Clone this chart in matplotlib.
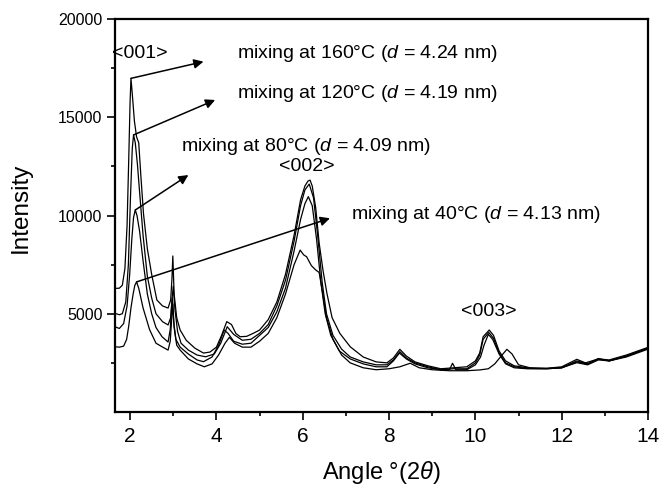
import matplotlib
matplotlib.use('Agg')
import matplotlib.pyplot as plt

plt.rcParams['font.family'] = ['Liberation Sans', 'DejaVu Sans']
plt.rcParams['mathtext.fontset'] = 'custom'
plt.rcParams['mathtext.rm'] = 'Liberation Sans'
plt.rcParams['mathtext.it'] = 'Liberation Sans:italic'

# XRD patterns (angle 2theta in deg, intensity)
x_160 = [1.65, 1.75, 1.82, 1.88, 1.93, 1.97, 2.00, 2.02, 2.05, 2.10, 2.15, 2.20, 2.25, 2.31, 2.40,
         2.50, 2.62, 2.75, 2.88, 2.94, 2.97, 2.99, 3.02, 3.08, 3.16, 3.30, 3.50, 3.70, 3.85, 4.00,
         4.12, 4.24, 4.35, 4.45, 4.55, 4.70, 4.85, 5.00, 5.20, 5.40, 5.60, 5.80, 5.95, 6.05, 6.12,
         6.17, 6.22, 6.30, 6.38, 6.47, 6.56, 6.68, 6.86, 7.10, 7.40, 7.70, 7.95, 8.10, 8.25, 8.40,
         8.60, 8.90, 9.20, 9.50, 9.80, 10.00, 10.10, 10.18, 10.32, 10.42, 10.55, 10.70, 10.90,
         11.20, 11.65, 12.00, 12.35, 12.55, 12.85, 13.10, 13.50, 14.00]
y_160 = [6290, 6300, 6450, 7300, 9500, 13000, 15800, 16980, 16200, 14800, 14000, 13700, 12000, 10100, 8300,
         7000, 5700, 5400, 5290, 5700, 6800, 7940, 6000, 4800, 4170, 3650, 3250, 3000, 3050, 3300,
         3900, 4600, 4450, 4000, 3830, 3850, 4000, 4170, 4700, 5600, 7000, 9000, 10800, 11500, 11750,
         11800, 11500, 10400, 8600, 7200, 6040, 4800, 4000, 3320, 2800, 2550, 2500, 2750, 3190, 2850,
         2550, 2350, 2200, 2250, 2300, 2600, 3000, 3830, 4170, 3900, 3100, 2600, 2350,
         2250, 2220, 2300, 2680, 2500, 2700, 2650, 2900, 3290]

x_120 = [1.65, 1.75, 1.82, 1.90, 1.96, 2.01, 2.05, 2.08, 2.12, 2.17, 2.22, 2.30, 2.40, 2.50, 2.60,
         2.75, 2.88, 2.94, 2.97, 3.00, 3.04, 3.10, 3.18, 3.35, 3.55, 3.75, 3.95, 4.10, 4.25, 4.40,
         4.60, 4.80, 5.00, 5.20, 5.40, 5.60, 5.80, 5.95, 6.05, 6.15, 6.25, 6.35, 6.45, 6.55, 6.70,
         6.90, 7.10, 7.40, 7.70, 7.95, 8.10, 8.25, 8.40, 8.60, 8.90, 9.20, 9.50, 9.80, 10.00, 10.10,
         10.18, 10.31, 10.42, 10.55, 10.70, 10.90, 11.20, 11.65, 12.00, 12.35, 12.60, 12.85, 13.10,
         13.50, 14.00]
y_120 = [5020, 4950, 5000, 5600, 7500, 11000, 13400, 14100, 13700, 12600, 11200, 9000, 6900, 5800, 5000,
         4600, 4430, 4800, 5700, 6400, 5200, 4100, 3500, 3150, 2900, 2810, 2950, 3500, 4340, 3950,
         3650, 3700, 4000, 4450, 5400, 6700, 8700, 10500, 11300, 11600, 10900, 8900, 6600, 5000, 3900,
         3200, 2800, 2550, 2400, 2400, 2650, 3070, 2750, 2500, 2300, 2150, 2200, 2200, 2500, 2900,
         3700, 4050, 3750, 3000, 2500, 2300, 2220, 2200, 2250, 2510, 2400, 2650, 2600,
         2850, 3250]

x_80 = [1.65, 1.75, 1.85, 1.93, 1.99, 2.04, 2.08, 2.12, 2.16, 2.22, 2.30, 2.40, 2.50, 2.60, 2.74,
        2.88, 2.93, 2.96, 2.98, 3.01, 3.06, 3.16, 3.35, 3.55, 3.70, 3.90, 4.05, 4.18, 4.27, 4.40,
        4.60, 4.80, 5.00, 5.20, 5.40, 5.60, 5.80, 5.95, 6.05, 6.13, 6.22, 6.32, 6.42, 6.52, 6.65,
        6.85, 7.10, 7.40, 7.70, 7.95, 8.10, 8.24, 8.40, 8.60, 8.90, 9.20, 9.40, 9.47, 9.55, 9.80,
        10.00, 10.12, 10.20, 10.30, 10.40, 10.55, 10.70, 10.90, 11.20, 11.65, 12.00, 12.35, 12.60,
        12.85, 13.10, 13.50, 14.00]
y_80 = [4340, 4250, 4500, 5400, 7000, 8800, 9900, 10280, 10000, 9200, 7700, 6000, 5000, 4300, 3830,
        3560, 4200, 5300, 5800, 4600, 3700, 3300, 2950, 2650, 2560, 2800, 3400, 4170, 4000, 3600,
        3450, 3500, 3900, 4300, 5100, 6300, 8200, 9800, 10600, 10960, 10500, 8800, 6600, 5000, 3900,
        3100, 2700, 2450, 2300, 2300, 2600, 3000, 2700, 2450, 2250, 2150, 2150, 2480, 2150, 2150,
        2400, 2800, 3400, 3950, 3700, 2950, 2450, 2250, 2200, 2200, 2250, 2550, 2450,
        2700, 2600, 2800, 3200]

x_40 = [1.65, 1.75, 1.85, 1.92, 1.97, 2.02, 2.07, 2.11, 2.15, 2.20, 2.30, 2.45, 2.60, 2.74, 2.88,
        2.93, 2.96, 2.99, 3.02, 3.08, 3.16, 3.35, 3.55, 3.72, 3.90, 4.05, 4.20, 4.30, 4.42, 4.60,
        4.80, 5.00, 5.20, 5.40, 5.60, 5.80, 5.94, 6.02, 6.09, 6.20, 6.30, 6.38, 6.45, 6.55, 6.70,
        6.90, 7.10, 7.40, 7.70, 8.00, 8.25, 8.49, 8.70, 9.00, 9.40, 9.80, 10.10, 10.30, 10.45,
        10.58, 10.73, 10.85, 11.00, 11.30, 11.65, 12.00, 12.35, 12.60, 12.85, 13.10, 13.50, 14.00]
y_40 = [3320, 3300, 3350, 3700, 4400, 5300, 6000, 6450, 6620, 6300, 5300, 4200, 3500, 3320, 3150,
        3600, 4600, 5500, 4300, 3400, 3150, 2700, 2450, 2300, 2450, 2900, 3500, 3800, 3500, 3300,
        3300, 3600, 4000, 4800, 6000, 7500, 8240, 8000, 7900, 7450, 7230, 7100, 6200, 4800, 3700,
        2900, 2500, 2250, 2150, 2200, 2300, 2480, 2250, 2150, 2100, 2100, 2140, 2200, 2450,
        2800, 3190, 2950, 2400, 2230, 2220, 2250, 2600, 2450, 2720, 2600, 2850, 3250]

labels = ['mixing at 160°C ($d$ = 4.24 nm)', 'mixing at 120°C ($d$ = 4.19 nm)',
          'mixing at 80°C ($d$ = 4.09 nm)', 'mixing at 40°C ($d$ = 4.13 nm)']
peak_pos = [(2.02, 16980), (2.08, 14100), (2.12, 10280), (2.15, 6620)]
arrow_end = [(3.70, 17830), (3.97, 15880), (3.35, 12060), (6.63, 9860)]
label_pos = [(4.47, 18270), (4.47, 16220), (3.17, 13500), (7.11, 10030)]

fig = plt.figure(figsize=(6.62, 4.90), dpi=100)
ax = fig.add_axes([0.1737, 0.1592, 0.8052, 0.802])

for xs, ys in [(x_160, y_160), (x_120, y_120), (x_80, y_80), (x_40, y_40)]:
    ax.plot(xs, ys, color='k', lw=0.9)

for lab, p0, p1, pl in zip(labels, peak_pos, arrow_end, label_pos):
    ax.annotate('', xy=p1, xytext=p0,
                arrowprops=dict(arrowstyle='-|>', color='k', lw=1.1, mutation_scale=14,
                                shrinkA=0, shrinkB=0))
    ax.text(pl[0], pl[1], lab, fontsize=14, ha='left', va='center')

ax.text(2.23, 18270, '<001>', fontsize=14, ha='center', va='center')
ax.text(6.09, 12480, '<002>', fontsize=14, ha='center', va='center')
ax.text(10.30, 5100, '<003>', fontsize=14, ha='center', va='center')

ax.set_xlim(1.65, 14)
ax.set_ylim(0, 20000)
ax.set_xticks([2, 4, 6, 8, 10, 12, 14])
ax.set_xticks([3, 5, 7, 9, 11, 13], minor=True)
ax.set_yticks([5000, 10000, 15000, 20000])
ax.set_yticks([2500, 7500, 12500, 17500], minor=True)
ax.tick_params(which='major', direction='out', length=5.5, width=1.2, top=False, right=False)
ax.tick_params(which='minor', direction='out', length=3, width=1.2, top=False, right=False)
ax.tick_params(axis='x', labelsize=15, pad=5)
ax.tick_params(axis='y', labelsize=11.5)
for s in ax.spines.values():
    s.set_linewidth(1.6)

ax.set_xlabel(r'Angle °(2$\theta$)', fontsize=17)
ax.xaxis.set_label_coords(0.5, -0.12)
ax.set_ylabel('Intensity', fontsize=17.5)
ax.yaxis.set_label_coords(-0.156, 0.519)

fig.savefig('out.png', dpi=100)
